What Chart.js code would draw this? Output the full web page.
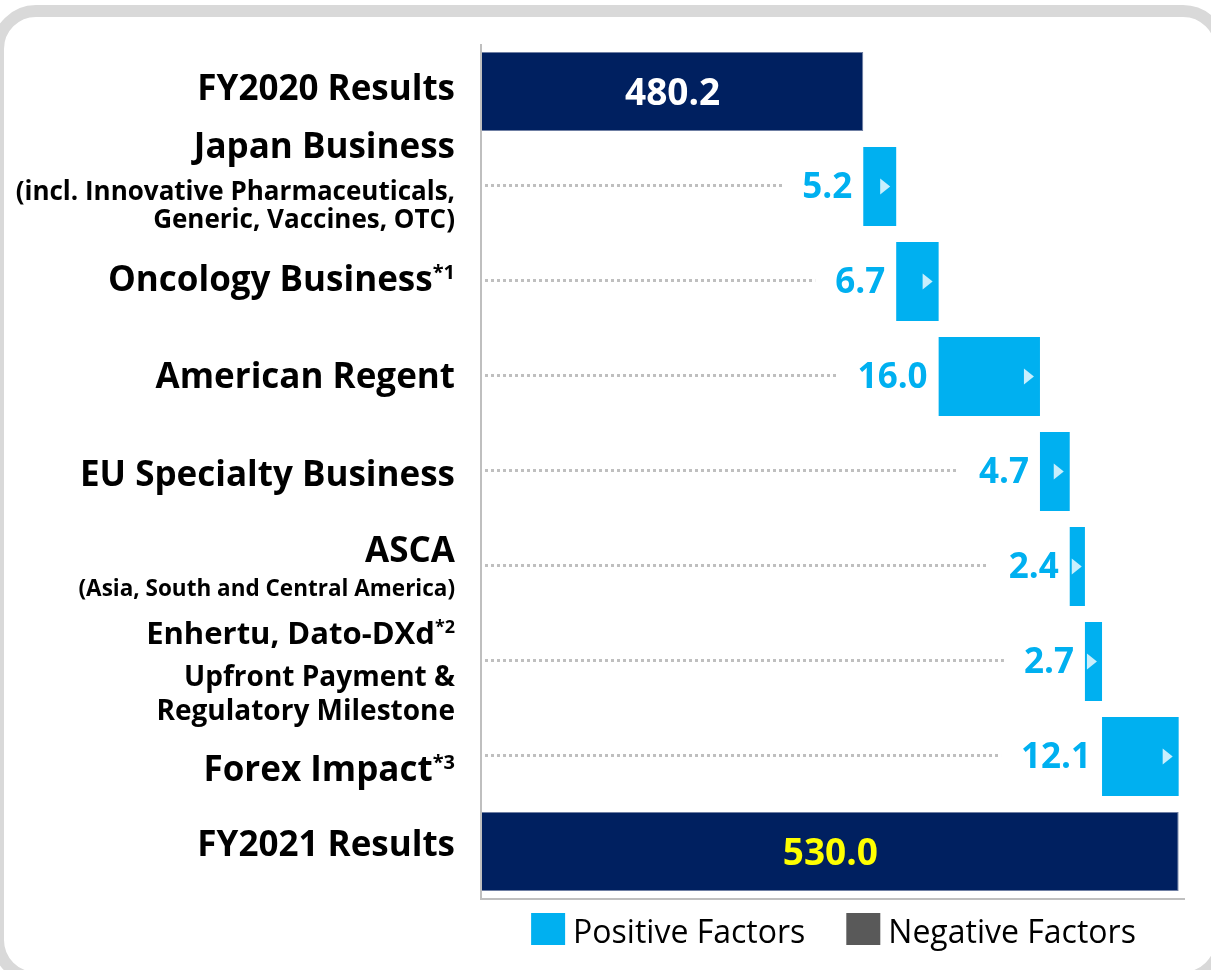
<!DOCTYPE html>
<html>
<head>
<meta charset="utf-8">
<script src="https://cdn.jsdelivr.net/npm/chart.js@4.4.1/dist/chart.umd.min.js"></script>
<style>
    body { margin: 0; background: #fff; width: 1211px; height: 970px; overflow: hidden; position: relative; }
    #frame { position: absolute; left: -8px; top: 5px; width: 1235px; height: 979px; box-sizing: border-box; border: 12px solid #d9d9d9; border-radius: 44px; }
    #wrap { position: absolute; left: 0; top: 0; width: 1211px; height: 970px; }
</style>
</head>
<body>
<div id="frame"></div>
<div id="wrap"><canvas id="bridgeChart" width="1211" height="970"></canvas></div>
<script>
// data
const categories = ['FY2020 Results', 'Japan Business', 'Oncology Business', 'American Regent',
    'EU Specialty Business', 'ASCA', 'Enhertu, Dato-DXd', 'Forex Impact', 'FY2021 Results'];
const subLabels = [[], ['(incl. Innovative Pharmaceuticals,', 'Generic, Vaccines, OTC)'], [], [], [],
    ['(Asia, South and Central America)'], ['Upfront Payment &', 'Regulatory Milestone'], [], []];
const footnotes = ['', '', '*1', '', '', '', '*2', '*3', ''];
const startResult = 480.2;
const changes = [5.2, 6.7, 16.0, 4.7, 2.4, 2.7, 12.1];
const endResult = 530.0;
const axisMin = 420;
const axisMax = 531;

const NAVY = '#002060';
const BLUE = '#00B0F0';
const GREY = '#595959';
const FONT = "'Open Sans', sans-serif";

// label layout: font size and vertical offset (from category centre) of each line
const labelSizes = [[35], [35, 26, 26], [35], [35], [35], [35, 22.5], [31, 28, 28], [35], [35]];
const labelOffsets = [[-4], [-41, 4, 32], [-3], [-1], [2], [-17, 21], [-29, 14, 48], [12], [-8]];

const totals = categories.map(() => null);
totals[0] = startResult;
totals[categories.length - 1] = endResult;

const positive = [null];
let running = startResult;
changes.forEach(v => {
    positive.push(v >= 0 ? [running, running + v] : null);
    running += v;
});
positive.push(null);
const negative = [null];
running = startResult;
changes.forEach(v => {
    negative.push(v < 0 ? [running + v, running] : null);
    running += v;
});
negative.push(null);

const bridgeDecor = {
    id: 'bridgeDecor',
    afterDatasetsDraw(chart) {
        const ctx = chart.ctx;
        const area = chart.chartArea;
        const x = chart.scales.x;
        const y = chart.scales.y;
        ctx.save();

        // axis lines
        ctx.strokeStyle = '#bfbfbf';
        ctx.lineWidth = 2;
        ctx.beginPath();
        ctx.moveTo(area.left - 1, area.top);
        ctx.lineTo(area.left - 1, area.bottom);
        ctx.lineTo(area.right, area.bottom);
        ctx.stroke();

        // category labels
        ctx.fillStyle = '#000';
        ctx.textAlign = 'right';
        ctx.textBaseline = 'alphabetic';
        const labelRight = area.left - 27;
        categories.forEach((name, i) => {
            const cy = y.getPixelForValue(i);
            const lines = [name].concat(subLabels[i]);
            lines.forEach((text, j) => {
                const size = labelSizes[i][j];
                const base = cy + labelOffsets[i][j] + size * 0.36;
                let right = labelRight;
                if (j === 0 && footnotes[i]) {
                    const supSize = Math.round(size * 0.58);
                    ctx.font = 'bold ' + supSize + 'px ' + FONT;
                    ctx.fillText(footnotes[i], right, base - size * 0.36);
                    right -= ctx.measureText(footnotes[i]).width;
                }
                ctx.font = 'bold ' + size + 'px ' + FONT;
                ctx.fillText(text, right, base);
            });
        });

        // total labels
        ctx.textAlign = 'center';
        ctx.font = 'bold 37px ' + FONT;
        [0, categories.length - 1].forEach((i, k) => {
            const cy = y.getPixelForValue(i);
            const cx = (x.getPixelForValue(axisMin) + x.getPixelForValue(totals[i])) / 2;
            ctx.fillStyle = k === 0 ? '#ffffff' : '#ffff00';
            ctx.fillText(totals[i].toFixed(1), cx, cy + 13);
        });

        // change labels, leader dots and arrows
        changes.forEach((v, k) => {
            const i = k + 1;
            const seg = v >= 0 ? positive[i] : negative[i];
            const cy = y.getPixelForValue(i);
            const x0 = x.getPixelForValue(seg[0]);
            const x1 = x.getPixelForValue(seg[1]);
            const text = Math.abs(v).toFixed(1);
            ctx.font = 'bold 35px ' + FONT;
            ctx.textAlign = 'right';
            ctx.fillStyle = v >= 0 ? BLUE : GREY;
            ctx.fillText(text, x0 - 11, cy + 11);
            const textLeft = x0 - 11 - ctx.measureText(text).width;

            ctx.strokeStyle = '#bfbfbf';
            ctx.lineWidth = 3;
            ctx.setLineDash([3, 3]);
            ctx.beginPath();
            ctx.moveTo(area.left + 3, cy - 1);
            ctx.lineTo(textLeft - 20, cy - 1);
            ctx.stroke();
            ctx.setLineDash([]);

            const tip = Math.max(x1 - 6, x0 + 12);
            ctx.fillStyle = '#c8effd';
            ctx.beginPath();
            ctx.moveTo(tip, cy);
            ctx.lineTo(tip - 10, cy - 8);
            ctx.lineTo(tip - 10, cy + 8);
            ctx.closePath();
            ctx.fill();
        });

        // legend
        const items = chart.data.datasets.slice(1);
        ctx.font = '32px ' + FONT;
        ctx.textAlign = 'left';
        const box = 34, gapText = 8, gapItem = 41;
        const widths = items.map(d => box + gapText + ctx.measureText(d.label).width);
        const total = widths.reduce((a, b) => a + b, 0) + gapItem;
        let lx = (area.left + area.right) / 2 - total / 2;
        const ly = area.bottom + 14;
        items.forEach((d, k) => {
            ctx.fillStyle = d.backgroundColor;
            ctx.fillRect(lx, ly, box, 32);
            ctx.fillStyle = '#000';
            ctx.fillText(d.label, lx + box + gapText, ly + 30);
            lx += widths[k] + gapItem;
        });

        ctx.restore();
    }
};

new Chart(document.getElementById('bridgeChart'), {
    type: 'bar',
    data: {
        labels: categories,
        datasets: [
            {
                label: 'Results',
                data: totals,
                backgroundColor: NAVY,
                borderColor: '#6f7fa3',
                borderWidth: 1
            },
            {
                label: 'Positive Factors',
                data: positive,
                backgroundColor: BLUE
            },
            {
                label: 'Negative Factors',
                data: negative,
                backgroundColor: GREY
            }
        ]
    },
    options: {
        indexAxis: 'y',
        responsive: false,
        animation: false,
        layout: {
            padding: { left: 482, right: 26, top: 44, bottom: 71 }
        },
        datasets: {
            bar: {
                grouped: false,
                categoryPercentage: 1,
                barPercentage: 0.83
            }
        },
        plugins: {
            legend: { display: false },
            tooltip: { enabled: false }
        },
        scales: {
            x: {
                type: 'linear',
                min: axisMin,
                max: axisMax,
                display: false
            },
            y: {
                display: false
            }
        }
    },
    plugins: [bridgeDecor]
});
</script>
</body>
</html>
